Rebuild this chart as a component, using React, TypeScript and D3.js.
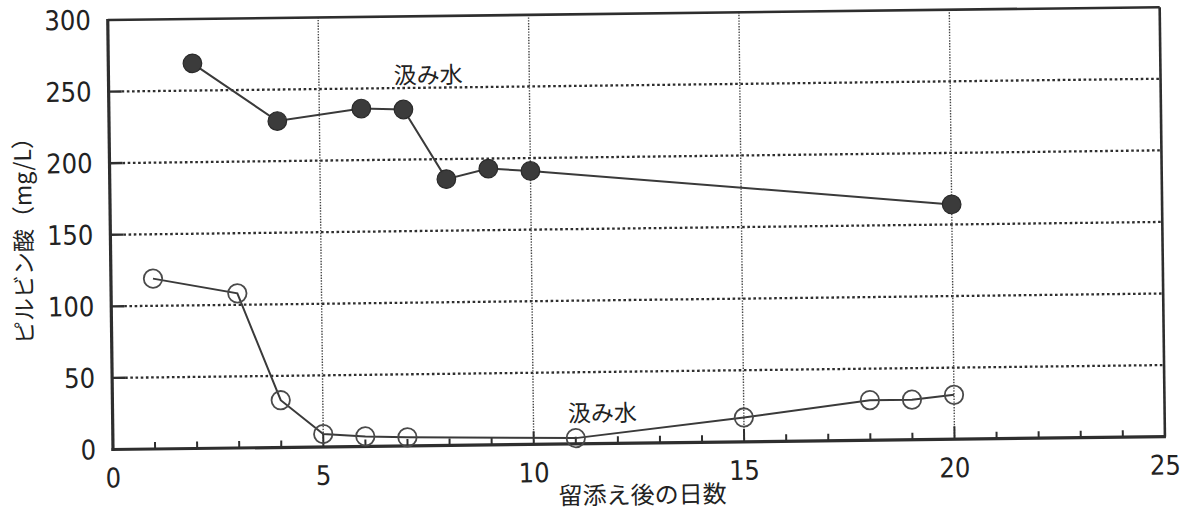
import React from 'react';
import * as d3 from 'd3';

// Days after addition (x) and pyruvate concentration in mg/L (y)
const xTicks = [0, 5, 10, 15, 20, 25];
const yTicks = [0, 50, 100, 150, 200, 250, 300];

const upperDays = [2, 4, 6, 7, 8, 9, 10, 20];
const upperValues = [269, 228, 236, 235, 186, 193, 191, 164];

const lowerDays = [1, 3, 4, 5, 6, 7, 11, 15, 18, 19, 20];
const lowerValues = [119, 108, 33, 9, 7, 6, 4, 17, 28, 28, 31];

const seriesLabel = '汲み水';
const xTitle = '留添え後の日数';
const yTitle = 'ピルビン酸（mg/L）';

const W = 1184;
const H = 511;
const plot = { left: 113, right: 1165, top: 20, bottom: 449.5 };
const tilt = -0.7;

const ink = '#2e2e2e';
const numFont = '"Liberation Sans Narrow", "DejaVu Sans Condensed", "Arial Narrow", sans-serif';
const cjkFont = '"Noto Sans CJK JP", "Noto Sans", sans-serif';

export default function App() {
  const x = d3.scaleLinear().domain([0, 25]).range([plot.left, plot.right]);
  const y = d3.scaleLinear().domain([0, 300]).range([plot.bottom, plot.top]);

  const upper = upperDays.map((d, i) => [d, upperValues[i]] as [number, number]);
  const lower = lowerDays.map((d, i) => [d, lowerValues[i]] as [number, number]);
  const line = d3.line<[number, number]>().x((d) => x(d[0])).y((d) => y(d[1]));

  const minorDays = d3.range(1, 25).filter((d) => d % 5 !== 0);
  const hGrid = yTicks.filter((v) => v > 0 && v < 300);
  const vGrid = xTicks.filter((v) => v > 0 && v < 25);

  return (
    <svg
      width={W}
      height={H}
      style={{ position: 'absolute', left: 0, top: 0, display: 'block', background: '#fff' }}
    >
      <rect x={0} y={0} width={W} height={H} fill="#fff" />
      <g transform={`rotate(${tilt} ${plot.left} ${plot.bottom})`}>
        {/* horizontal grid: short solid tick then dotted rule */}
        {hGrid.map((v) => (
          <g key={`h${v}`}>
            <line x1={plot.left} x2={plot.left + 13} y1={y(v)} y2={y(v)} stroke={ink} strokeWidth={2.4} />
            <line
              x1={plot.left + 13}
              x2={plot.right}
              y1={y(v)}
              y2={y(v)}
              stroke={ink}
              strokeWidth={2.3}
              strokeDasharray="2.6 2.6"
            />
          </g>
        ))}
        {/* vertical grid at every 5 days */}
        {vGrid.map((v) => (
          <g key={`v${v}`}>
            <line
              x1={x(v)}
              x2={x(v)}
              y1={plot.bottom}
              y2={plot.top}
              stroke="#444"
              strokeWidth={1.4}
              strokeDasharray="1.4 1.4"
            />
            <line x1={x(v)} x2={x(v)} y1={plot.bottom} y2={plot.bottom - 13} stroke={ink} strokeWidth={2} />
          </g>
        ))}
        {minorDays.map((d) => (
          <line key={`m${d}`} x1={x(d)} x2={x(d)} y1={plot.bottom} y2={plot.bottom - 7} stroke={ink} strokeWidth={2} />
        ))}

        {/* frame */}
        <line x1={plot.left} x2={plot.right} y1={plot.top} y2={plot.top} stroke={ink} strokeWidth={2.6} />
        <line x1={plot.right} x2={plot.right} y1={plot.top} y2={plot.bottom} stroke={ink} strokeWidth={2.6} />
        <line x1={plot.left} x2={plot.left} y1={plot.top - 1} y2={plot.bottom + 1.5} stroke={ink} strokeWidth={3.2} />
        <line x1={plot.left - 1.5} x2={plot.right + 1} y1={plot.bottom} y2={plot.bottom} stroke={ink} strokeWidth={3.2} />

        {/* series */}
        <path d={line(lower) ?? ''} fill="none" stroke="#3a3a3a" strokeWidth={2} />
        <path d={line(upper) ?? ''} fill="none" stroke="#3a3a3a" strokeWidth={2} />
        {lower.map((d, i) => (
          <circle key={`o${i}`} cx={x(d[0])} cy={y(d[1])} r={9.2} fill="none" stroke="#4a4a4a" strokeWidth={1.8} />
        ))}
        {upper.map((d, i) => (
          <circle key={`f${i}`} cx={x(d[0])} cy={y(d[1])} r={9.3} fill="#3b3b3b" stroke="#2a2a2a" strokeWidth={1.2} />
        ))}

        {/* series labels */}
        <text x={x(7.6)} y={y(260)} fontFamily={cjkFont} fontSize={23} fill="#222" textAnchor="middle" dominantBaseline="central">
          {seriesLabel}
        </text>
        <text x={x(11.64)} y={y(22.4)} fontFamily={cjkFont} fontSize={23} fill="#222" textAnchor="middle" dominantBaseline="central">
          {seriesLabel}
        </text>

        {/* tick labels */}
        {yTicks.map((v) => (
          <text
            key={`yl${v}`}
            x={plot.left - 17}
            y={y(v)}
            fontFamily={numFont}
            fontSize={27}
            fill="#222"
            textAnchor="end"
            dominantBaseline="central"
          >
            {v}
          </text>
        ))}
        {xTicks.map((v) => (
          <text
            key={`xl${v}`}
            x={x(v)}
            y={478}
            fontFamily={numFont}
            fontSize={27}
            fill="#222"
            textAnchor="middle"
            dominantBaseline="central"
          >
            {v}
          </text>
        ))}

        {/* axis titles */}
        <text x={642} y={499.5} fontFamily={cjkFont} fontSize={24} fill="#222" textAnchor="middle" dominantBaseline="central">
          {xTitle}
        </text>
        <text
          transform={`translate(24.6 234) rotate(-90)`}
          fontFamily={cjkFont}
          fontSize={23}
          fill="#222"
          textAnchor="middle"
          dominantBaseline="central"
        >
          {yTitle}
        </text>
      </g>
    </svg>
  );
}
